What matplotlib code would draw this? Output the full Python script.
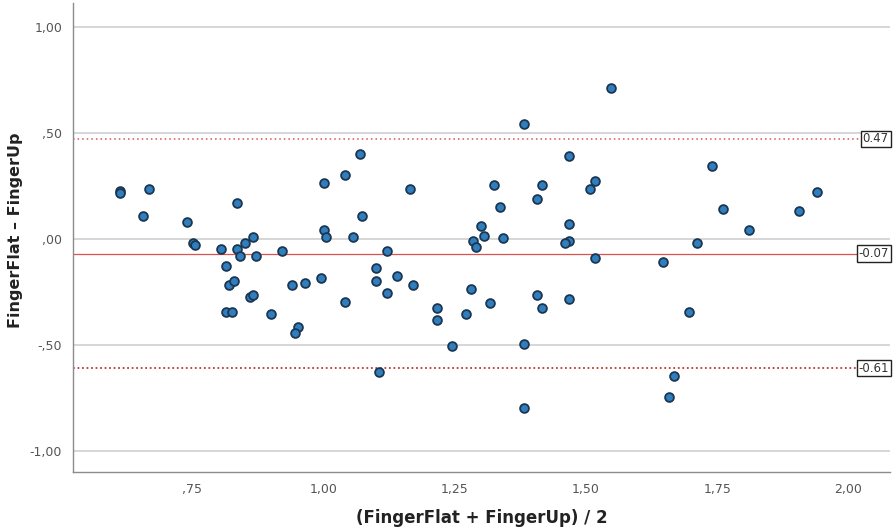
import matplotlib
matplotlib.use("Agg")
import matplotlib.pyplot as plt

# mean of the two measurements
mean_vals = [
    0.612, 0.612, 0.668, 0.657, 0.740, 0.751, 0.756, 0.836, 0.806, 0.836,
    0.841, 0.850, 0.866, 0.871, 0.921, 0.815, 0.820, 0.830, 0.860, 0.866,
    0.815, 0.826, 0.900, 0.951, 0.946, 0.940, 0.966, 0.996, 1.041, 1.001,
    1.041, 1.069, 1.001, 1.006, 1.056, 1.073,
    1.382, 1.166, 1.121, 1.101, 1.101, 1.141, 1.121, 1.171, 1.217, 1.217,
    1.246, 1.271, 1.281, 1.317, 1.106, 1.326, 1.336, 1.301, 1.307, 1.342,
    1.286, 1.291, 1.382, 1.382, 1.467, 1.416, 1.407, 1.467, 1.467, 1.461,
    1.407, 1.416, 1.467, 1.517, 1.507, 1.517, 1.547,
    1.740, 1.941, 1.761, 1.905, 1.810, 1.712, 1.647, 1.697, 1.667, 1.658,
]
# difference FingerFlat - FingerUp
diff_vals = [
    0.225, 0.215, 0.233, 0.108, 0.080, -0.019, -0.030, 0.168, -0.049, -0.049,
    -0.080, -0.019, 0.009, -0.080, -0.060, -0.129, -0.217, -0.198, -0.277, -0.267,
    -0.346, -0.346, -0.356, -0.414, -0.445, -0.217, -0.208, -0.187, -0.297, 0.264,
    0.302, 0.401, 0.039, 0.009, 0.009, 0.108,
    0.541, 0.234, -0.058, -0.139, -0.198, -0.178, -0.256, -0.217, -0.327, -0.385,
    -0.508, -0.356, -0.238, -0.305, -0.629, 0.253, 0.148, 0.059, 0.011, 0.001,
    -0.009, -0.040, -0.497, -0.796, 0.392, 0.253, 0.189, 0.067, -0.009, -0.021,
    -0.267, -0.327, -0.286, 0.274, 0.233, -0.090, 0.709,
    0.341, 0.222, 0.138, 0.129, 0.039, -0.019, -0.108, -0.346, -0.648, -0.747,
]

bias = -0.07
upper_loa = 0.47
lower_loa = -0.61

y_ticks = [1.0, 0.5, 0.0, -0.5, -1.0]
y_ticklabels = ["1,00", ",50", ",00", "-,50", "-1,00"]
x_ticks = [0.75, 1.00, 1.25, 1.50, 1.75, 2.00]
x_ticklabels = [",75", "1,00", "1,25", "1,50", "1,75", "2,00"]

fig = plt.figure(figsize=(8.94, 5.31), dpi=100)
ax = fig.add_axes([0.082, 0.111, 0.914, 0.883])

ax.set_xlim(0.524, 2.08)
ax.set_ylim(-1.10, 1.11)

for yt in y_ticks:
    ax.axhline(yt, color="#d3d3d3", lw=1.3, zorder=1)

ax.axhline(bias, color="#d9534f", lw=0.9, zorder=2)
ax.axhline(upper_loa, color="#d9534f", lw=1.1, ls=(0, (1, 2)), zorder=2)
ax.axhline(lower_loa, color="#c0392b", lw=1.3, ls=(0, (1, 1.5)), zorder=2)

ax.scatter(mean_vals, diff_vals, s=40, facecolor="#2f7fbf", edgecolor="#1c3550",
           linewidth=1.3, zorder=3)

for val in [upper_loa, bias, lower_loa]:
    ax.text(0.998, val, f"{val:.2f}", transform=ax.get_yaxis_transform(),
            ha="right", va="center", fontsize=8.5, color="#333333", zorder=4,
            bbox=dict(boxstyle="square,pad=0.15", facecolor="white",
                      edgecolor="#222222", linewidth=1.0))

ax.set_yticks(y_ticks)
ax.set_yticklabels(y_ticklabels)
ax.set_xticks(x_ticks)
ax.set_xticklabels(x_ticklabels)
ax.tick_params(length=0, labelsize=9, colors="#555555")
ax.tick_params(axis="y", pad=8)
ax.tick_params(axis="x", pad=8)

for side in ["top", "right"]:
    ax.spines[side].set_visible(False)
for side in ["left", "bottom"]:
    ax.spines[side].set_color("#8c8c8c")
    ax.spines[side].set_linewidth(1.0)

ax.set_xlabel("(FingerFlat + FingerUp) / 2", fontsize=12, fontweight="bold",
              color="#222222")
ax.set_ylabel("FingerFlat \u2013 FingerUp", fontsize=11.5, fontweight="bold",
              color="#222222")
ax.xaxis.set_label_coords(0.5, -0.079)
ax.yaxis.set_label_coords(-0.061, 0.516)

fig.savefig("out.png", dpi=100)
